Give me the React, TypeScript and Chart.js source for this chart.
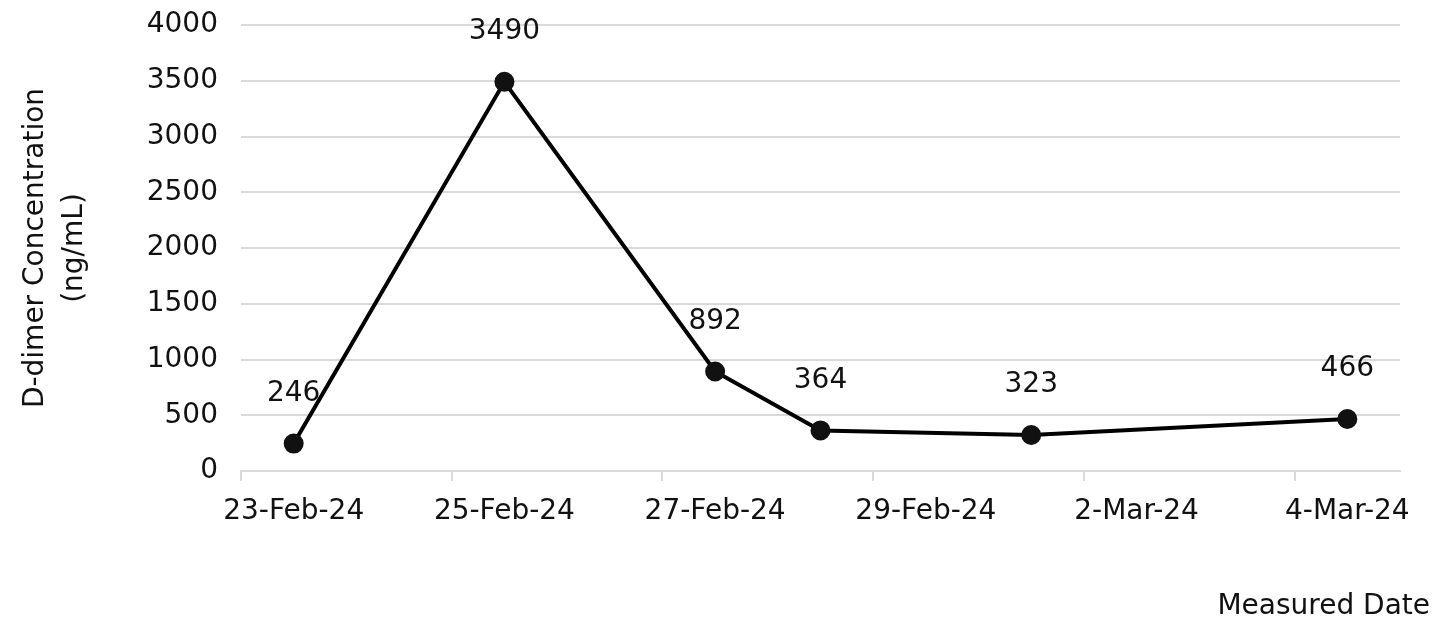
import { useEffect, useRef } from 'react';
import { Chart, registerables } from 'chart.js';

Chart.register(...registerables);

// every day on the date axis (a label is shown on every second one)
const axisDays = [
  '23-Feb-24', '24-Feb-24', '25-Feb-24', '26-Feb-24', '27-Feb-24', '28-Feb-24',
  '29-Feb-24', '1-Mar-24', '2-Mar-24', '3-Mar-24', '4-Mar-24',
];
// measured samples
const measuredDates = ['23-Feb-24', '25-Feb-24', '27-Feb-24', '28-Feb-24', '1-Mar-24', '4-Mar-24'];
const dDimerValues = [246, 3490, 892, 364, 323, 466];

const yTitle = ['D-dimer Concentration', '(ng/mL)'];
const xTitle = 'Measured Date';

const FONT = '"DejaVu Sans", sans-serif';
const GRID = '#d9d9d9';

const pointLabels = {
  id: 'pointLabels',
  afterDatasetsDraw(chart: Chart) {
    const { ctx } = chart;
    const meta = chart.getDatasetMeta(0);
    ctx.save();
    ctx.font = `28px ${FONT}`;
    ctx.fillStyle = '#111';
    ctx.textAlign = 'center';
    ctx.textBaseline = 'middle';
    meta.data.forEach((pt, i) => {
      ctx.fillText(String(dDimerValues[i]), pt.x, pt.y - 50);
    });
    ctx.restore();
  },
};

const cornerTitle = {
  id: 'cornerTitle',
  afterDraw(chart: Chart) {
    const { ctx, width, height } = chart;
    ctx.save();
    ctx.font = `28px ${FONT}`;
    ctx.fillStyle = '#111';
    ctx.textAlign = 'right';
    ctx.textBaseline = 'middle';
    ctx.fillText(xTitle, width - 11, height - 24);
    ctx.restore();
  },
};

const DDimerChart = () => {
  const canvasRef = useRef<HTMLCanvasElement>(null);

  useEffect(() => {
    const canvas = canvasRef.current;
    if (!canvas) return;

    const chart = new Chart(canvas, {
      type: 'line',
      data: {
        labels: axisDays,
        datasets: [
          {
            label: 'D-dimer',
            data: measuredDates.map((d, i) => ({ x: d, y: dDimerValues[i] })) as any,
            borderColor: '#000',
            backgroundColor: '#000',
            borderWidth: 4,
            pointRadius: 8,
            pointBackgroundColor: '#111',
            pointBorderColor: '#111',
            tension: 0,
          },
        ],
      },
      options: {
        animation: false,
        responsive: true,
        maintainAspectRatio: false,
        layout: { padding: { top: 25, right: 41, left: 0, bottom: 0 } },
        plugins: {
          legend: { display: false },
          tooltip: { enabled: false },
        },
        scales: {
          x: {
            type: 'category',
            offset: true,
            afterFit: (scale) => {
              scale.height = 160;
            },
            grid: {
              offset: true,
              drawOnChartArea: false,
              tickLength: 10,
              lineWidth: 2,
              tickColor: (ctx) => (ctx.index % 2 === 0 ? GRID : 'rgba(0,0,0,0)'),
            },
            border: { color: GRID, width: 2 },
            ticks: {
              autoSkip: false,
              maxRotation: 0,
              padding: 14,
              color: '#111',
              font: { family: FONT, size: 28 },
              callback: (_v, i) => (i % 2 === 0 ? axisDays[i] : ''),
            },
          },
          y: {
            min: 0,
            max: 4000,
            afterFit: (scale) => {
              scale.width = 241;
              scale.paddingTop = 0;
              scale.paddingBottom = 0;
            },
            grid: { color: GRID, lineWidth: 2, drawTicks: false },
            border: { display: false },
            ticks: {
              stepSize: 500,
              padding: 23,
              color: '#111',
              font: { family: FONT, size: 28 },
              callback: (v) => String(v),
            },
            title: {
              display: true,
              text: yTitle,
              color: '#111',
              font: { family: FONT, size: 28, lineHeight: 1.4 },
              padding: { top: 16, bottom: 0 },
            },
          },
        },
      },
      plugins: [pointLabels, cornerTitle],
    });

    return () => {
      chart.destroy();
    };
  }, []);

  return (
    <div style={{ position: 'fixed', left: 0, top: 0, width: 1441, height: 631, background: '#fff' }}>
      <canvas ref={canvasRef}></canvas>
    </div>
  );
};

export default function App() {
  return <DDimerChart />;
}
